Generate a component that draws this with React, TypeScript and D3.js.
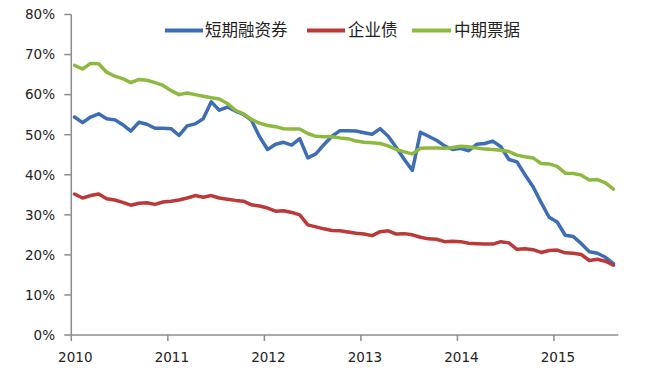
import React from "react";
import * as d3 from "d3";

const seriesNames = ["短期融资券", "企业债", "中期票据"];
const seriesColors = ["#3D6DB5", "#BB3A38", "#8DB93F"];
const yearLabels = ["2010", "2011", "2012", "2013", "2014", "2015"];
const yTicks = [0, 10, 20, 30, 40, 50, 60, 70, 80];

// monthly values, 2010-01 .. 2015-08 (%)
const cpValues = [
  54.4, 53.0, 54.4, 55.2, 54.0, 53.7, 52.5, 50.9, 53.1, 52.6, 51.6, 51.6,
  51.5, 49.8, 52.2, 52.7, 54.0, 58.2, 56.1, 56.9, 55.9, 55.1, 53.6, 49.5,
  46.3, 47.6, 48.1, 47.4, 49.0, 44.2, 45.2, 47.5, 49.6, 51.0, 51.0, 50.9,
  50.5, 50.1, 51.5, 49.6, 46.8, 43.8, 41.1, 50.6, 49.6, 48.6, 47.2, 46.3,
  46.6, 46.0, 47.6, 47.8, 48.4, 47.0, 43.8, 43.2, 40.0, 37.0, 33.1, 29.4,
  28.2, 24.9, 24.6, 22.8, 20.8, 20.4, 19.4, 17.8,
];
const corpValues = [
  35.2, 34.2, 34.8, 35.2, 34.0, 33.7, 33.1, 32.4, 32.9, 33.0, 32.6, 33.2,
  33.4, 33.7, 34.2, 34.8, 34.4, 34.8, 34.2, 33.9, 33.6, 33.4, 32.5, 32.2,
  31.7, 30.9, 31.0, 30.6, 30.0, 27.5, 27.0, 26.5, 26.1, 26.0, 25.7, 25.4,
  25.2, 24.8, 25.8, 26.0, 25.2, 25.3, 25.0, 24.4, 24.0, 23.9, 23.3, 23.4,
  23.3, 22.9, 22.8, 22.7, 22.7, 23.3, 23.0, 21.4, 21.5, 21.3, 20.6, 21.1,
  21.2, 20.5, 20.4, 20.1, 18.6, 18.9, 18.4, 17.4,
];
const mtnValues = [
  67.3, 66.4, 67.8, 67.7, 65.6, 64.6, 64.0, 63.0, 63.8, 63.6, 63.0, 62.3,
  61.0, 60.0, 60.4, 60.0, 59.6, 59.2, 58.9, 57.8, 56.1, 55.2, 53.8, 52.9,
  52.3, 52.0, 51.5, 51.4, 51.4, 50.3, 49.6, 49.5, 49.5, 49.2, 49.0, 48.4,
  48.1, 48.0, 47.8, 47.2, 46.3, 45.7, 45.2, 46.6, 46.7, 46.7, 46.6, 46.8,
  47.1, 47.0, 46.7, 46.4, 46.3, 46.1, 45.8, 44.9, 44.5, 44.2, 42.8, 42.7,
  42.1, 40.4, 40.3, 39.9, 38.7, 38.8, 38.0, 36.4,
];
const allSeries = [cpValues, corpValues, mtnValues];

const W = 655;
const H = 379;
const left = 71.3;
const right = 618.3;
const top = 14.5;
const bottom = 335;
const axisColor = "#8c8c8c";
const textColor = "#222";
const font = "'DejaVu Sans', sans-serif";

export default function App() {
  const x = d3.scaleLinear().domain([0, 68]).range([left, right]);
  const y = d3.scaleLinear().domain([0, 80]).range([bottom, top]);
  const line = d3
    .line<number>()
    .x((_, i) => x(i + 0.4))
    .y((d) => y(d))
    .curve(d3.curveLinear);

  const legendItems = [
    { x0: 165, x1: 203, tx: 205 },
    { x0: 307, x1: 345, tx: 348 },
    { x0: 412, x1: 451, tx: 454 },
  ];

  return (
    <svg
      width={W}
      height={H}
      style={{ position: "absolute", left: 0, top: 0, background: "#fff" }}
    >
      {/* y axis */}
      <line x1={left} x2={left} y1={y(80)} y2={bottom} stroke={axisColor} strokeWidth={1.5} />
      {yTicks.map((t) => (
        <g key={t}>
          <line x1={left - 7} x2={left} y1={y(t)} y2={y(t)} stroke={axisColor} strokeWidth={1.5} />
          <text
            x={55}
            y={y(t)}
            dy="0.36em"
            textAnchor="end"
            fontFamily={font}
            fontSize={13.5}
            fill={textColor}
          >
            {t}%
          </text>
        </g>
      ))}
      {/* x axis */}
      <line x1={left} x2={right} y1={bottom} y2={bottom} stroke={axisColor} strokeWidth={1.5} />
      {yearLabels.map((lab, k) => (
        <g key={lab}>
          <line x1={x(k * 12)} x2={x(k * 12)} y1={bottom} y2={bottom + 6} stroke={axisColor} strokeWidth={1.5} />
          <text
            x={x(k * 12) + 4}
            y={357}
            dy="0.36em"
            textAnchor="middle"
            fontFamily={font}
            fontSize={13.5}
            fill={textColor}
          >
            {lab}
          </text>
        </g>
      ))}
      {/* series */}
      {allSeries.map((s, k) => (
        <path
          key={k}
          d={line(s) || ""}
          fill="none"
          stroke={seriesColors[k]}
          strokeWidth={3.5}
          strokeLinejoin="round"
          strokeLinecap="round"
        />
      ))}
      {/* legend */}
      {legendItems.map((it, k) => (
        <g key={k}>
          <line x1={it.x0} x2={it.x1} y1={30.5} y2={30.5} stroke={seriesColors[k]} strokeWidth={4} />
          <text
            x={it.tx}
            y={30.5}
            dy="0.36em"
            fontFamily="'Noto Sans CJK SC', sans-serif"
            fontSize={16.5}
            fill={textColor}
          >
            {seriesNames[k]}
          </text>
        </g>
      ))}
    </svg>
  );
}
